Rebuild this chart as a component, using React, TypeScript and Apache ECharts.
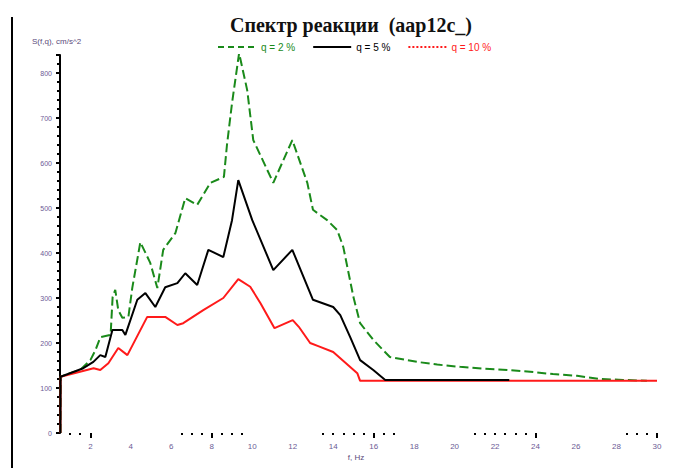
import React, { useEffect, useRef } from "react";
import * as echarts from "echarts";

const titleText = "Спектр реакции  (aap12c_)";
const yName = "S(f,q), cm/s^2";
const xName = "f, Hz";
const seriesNames = ["q = 2 %", "q = 5 %", "q = 10 %"];

const freq2 = [0.52, 0.53, 1.0, 1.5, 2.0, 2.25, 2.5, 3.0, 3.1, 3.23, 3.38, 3.58, 3.88, 4.07, 4.47, 4.96, 5.31, 5.6, 6.2, 6.69, 7.28, 7.93, 8.6, 8.75, 9.0, 9.35, 9.75, 10.05, 11.04, 11.98, 12.72, 13.0, 13.7, 14.2, 14.5, 15.0, 15.33, 15.98, 16.47, 16.8, 18.15, 19.14, 20.27, 21.41, 22.6, 23.73, 24.86, 26.05, 27.19, 28.32, 29.5];
const val2 = [0, 125, 133, 140, 162, 184, 213, 218, 302, 318, 273, 256, 258, 322, 424, 378, 322, 407, 444, 522, 507, 556, 569, 640, 733, 844, 762, 651, 556, 651, 556, 496, 473, 451, 413, 302, 244, 207, 184, 169, 158, 152, 147, 143, 140, 136, 131, 127, 120, 118, 116];

const freq5 = [0.52, 0.53, 1.65, 2.15, 2.49, 2.74, 3.09, 3.58, 3.73, 4.32, 4.72, 5.21, 5.7, 6.3, 6.69, 7.28, 7.83, 8.57, 9.0, 9.31, 10.0, 11.04, 11.98, 13.0, 14.0, 14.35, 14.84, 15.33, 15.98, 16.57, 22.7];
const val5 = [0, 125, 144, 158, 173, 169, 229, 229, 218, 296, 311, 280, 324, 333, 355, 329, 407, 391, 473, 562, 473, 362, 407, 296, 280, 262, 213, 162, 140, 118, 118];

const freq10 = [0.52, 0.53, 2.16, 2.49, 2.89, 3.38, 3.83, 4.81, 5.7, 6.3, 6.59, 7.58, 8.57, 9.31, 9.9, 10.4, 11.1, 12.0, 12.3, 12.86, 13.26, 14.0, 15.19, 15.33, 30];
const val10 = [0, 125, 144, 140, 155, 189, 173, 258, 258, 240, 244, 273, 300, 342, 325, 289, 233, 251, 236, 200, 193, 180, 133, 116, 116];

const xLabelValues = [2, 4, 6, 8, 10, 12, 14, 16, 18, 20, 22, 24, 26, 28, 30];
const xTickSmall = [1, 1.5, 6.5, 7, 7.5, 8.5, 9, 9.5, 13.5, 14, 14.5, 15, 15.5, 16.5, 17, 21, 21.5, 22, 22.5, 23, 23.5, 28.5, 29, 29.5];
const xTickBig = [2, 8, 16, 24, 30];
const yLabelValues = [0, 100, 200, 300, 400, 500, 600, 700, 800];

const colors = ["#1a8a1a", "#000000", "#ff1a1a"];
const legendDash: any[] = [[6, 4], "solid", [2, 2]];

function pairs(f: number[], v: number[]) {
  return f.map((x, i) => [x, v[i]]);
}

export default function App() {
  const ref = useRef<HTMLDivElement>(null);
  useEffect(() => {
    if (!ref.current) return;
    const chart = echarts.init(ref.current, null, { renderer: "svg" });
    const labelColor = "#6b5b95";
    chart.setOption({
      animation: false,
      backgroundColor: "#ffffff",
      legend: {
        left: 212,
        top: 37,
        itemWidth: 38,
        itemHeight: 8,
        itemGap: 17,
        itemStyle: { opacity: 0 },
        textStyle: { fontSize: 10, fontFamily: "Liberation Sans" },
        data: seriesNames.map((n, i) => ({
          name: n,
          textStyle: { color: colors[i] },
          lineStyle: { type: legendDash[i], width: 2 },
        })),
      },
      grid: { left: 60, right: 18, top: 55, bottom: 35, containLabel: false },
      xAxis: [
        {
          type: "value",
          min: 0.5,
          max: 30,
          axisLine: { show: false },
          splitLine: { show: false },
          axisTick: { show: true, length: 2, customValues: xTickSmall, lineStyle: { color: "#000", width: 2 } },
          axisLabel: {
            customValues: xLabelValues,
            fontSize: 8,
            color: labelColor,
            margin: 9,
            fontFamily: "Liberation Sans",
          },
        },
        {
          type: "value",
          position: "bottom",
          min: 0.5,
          max: 30,
          axisLine: { show: false },
          splitLine: { show: false },
          axisTick: { show: true, length: 5, customValues: xTickBig, lineStyle: { color: "#000", width: 2 } },
          axisLabel: { show: false },
        },
      ],
      yAxis: {
        type: "value",
        min: 0,
        max: 840,
        interval: 100,
        axisLine: { show: true, lineStyle: { color: "#000", width: 2 } },
        splitLine: { show: false },
        axisTick: { show: true, length: 4, lineStyle: { color: "#000", width: 2 } },
        minorTick: { show: true, splitNumber: 5, length: 3, lineStyle: { color: "#000", width: 2 } },
        axisLabel: {
          customValues: yLabelValues,
          fontSize: 7,
          color: labelColor,
          margin: 8,
          fontFamily: "Liberation Sans",
        },
      },
      series: [
        {
          name: seriesNames[0],
          type: "line",
          data: pairs(freq2, val2),
          showSymbol: false,
          symbol: "none",
          color: colors[0],
          lineStyle: { color: colors[0], width: 2, type: [9, 4] },
          z: 2,
        },
        {
          name: seriesNames[1],
          type: "line",
          data: pairs(freq5, val5),
          showSymbol: false,
          symbol: "none",
          color: colors[1],
          lineStyle: { color: colors[1], width: 2 },
          z: 4,
        },
        {
          name: seriesNames[2],
          type: "line",
          data: pairs(freq10, val10),
          showSymbol: false,
          symbol: "none",
          color: colors[2],
          lineStyle: { color: colors[2], width: 2 },
          z: 3,
        },
      ],
      graphic: [
        {
          type: "text",
          x: 351,
          y: 15,
          style: {
            text: titleText,
            font: "bold 20px 'Liberation Serif'",
            fill: "#111",
            textAlign: "center",
          },
        },
        {
          type: "text",
          x: 32,
          y: 37,
          style: { text: yName, font: "8px 'Liberation Sans'", fill: "#5a4a7a" },
        },
        {
          type: "text",
          x: 356,
          y: 453,
          style: { text: xName, font: "8px 'Liberation Sans'", fill: "#5a4a7a", textAlign: "center" },
        },
        {
          type: "line",
          shape: { x1: 12, y1: 17, x2: 12, y2: 468 },
          style: { stroke: "#000", lineWidth: 2 },
        },
      ],
    });
    return () => chart.dispose();
  }, []);
  return (
    <div
      ref={ref}
      style={{ position: "fixed", left: 0, top: 0, width: 675, height: 468 }}
    />
  );
}
